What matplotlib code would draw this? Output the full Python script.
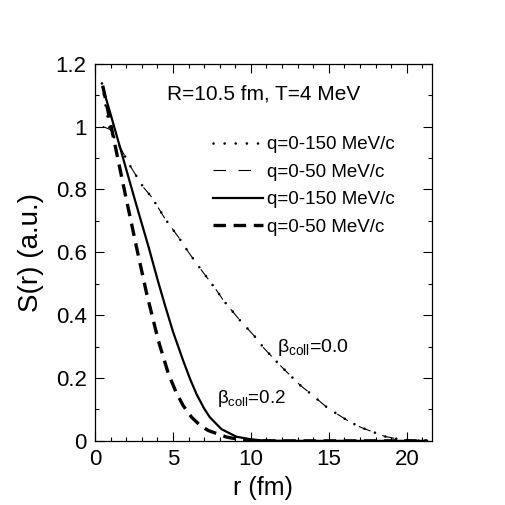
import matplotlib
matplotlib.use("Agg")
import matplotlib.pyplot as plt
from matplotlib.ticker import MultipleLocator

plt.rcParams['font.family'] = ['Liberation Sans', 'DejaVu Sans']
plt.rcParams['mathtext.fontset'] = 'custom'
plt.rcParams['mathtext.rm'] = 'Liberation Sans'
plt.rcParams['mathtext.it'] = 'Liberation Sans'
plt.rcParams['lines.scale_dashes'] = False

# beta_coll = 0.0, q = 0-150 MeV/c (dotted)
r_b0_q150 = [0.45, 0.7, 0.96, 1.5, 2.24, 3.1, 3.63, 4.49, 5.4, 6.0, 6.83, 7.8, 8.22,
             9.29, 10.36, 10.83, 11.96, 13.14, 13.66, 14.94, 16.35, 17.1, 18.6, 19.4, 20.5, 21.3]
s_b0_q150 = [1.137, 1.061, 0.987, 0.945, 0.876, 0.807, 0.776, 0.707, 0.645, 0.60, 0.543, 0.479, 0.448,
             0.384, 0.326, 0.295, 0.236, 0.178, 0.157, 0.104, 0.060, 0.042, 0.014, 0.006, 0.001, 0.0]

# beta_coll = 0.0, q = 0-50 MeV/c (thin dashed)
r_b0_q50 = [0.5, 1.0, 1.5, 2.24, 3.1, 3.63, 4.49, 5.4, 6.0, 6.83, 7.8, 8.22,
            9.29, 10.36, 10.83, 11.96, 13.14, 13.66, 14.94, 16.35, 17.1, 18.6, 19.4, 20.5, 21.3]
s_b0_q50 = [1.0, 0.99, 0.945, 0.876, 0.807, 0.776, 0.707, 0.645, 0.60, 0.543, 0.479, 0.448,
            0.384, 0.326, 0.295, 0.236, 0.178, 0.157, 0.104, 0.060, 0.042, 0.014, 0.006, 0.001, 0.0]

# beta_coll = 0.2, q = 0-150 MeV/c (solid)
r_b2_q150 = [0.5, 1.0, 1.8, 2.6, 3.45, 4.06, 4.5, 5.02, 5.66, 6.1, 6.52, 7.0, 7.37, 8.12,
             9.08, 10.0, 10.6, 11.5, 12.5, 15.0, 18.0, 21.3]
s_b2_q150 = [1.125, 1.04, 0.90, 0.76, 0.615, 0.505, 0.43, 0.345, 0.255, 0.197, 0.148, 0.103, 0.075, 0.037,
             0.013, 0.005, 0.002, 0.0005, 0.0, 0.0, 0.0, 0.0]

# beta_coll = 0.2, q = 0-50 MeV/c (thick dashed)
r_b2_q50 = [0.5, 1.0, 1.5, 1.92, 2.35, 2.67, 3.31, 4.06, 4.7, 5.2, 5.66, 6.2, 6.73, 7.26,
            8.44, 9.3, 10.5, 12.0, 15.0, 18.0, 21.3]
s_b2_q50 = [1.13, 1.01, 0.89, 0.79, 0.69, 0.615, 0.47, 0.32, 0.215, 0.155, 0.112, 0.075, 0.05, 0.033,
            0.012, 0.004, 0.0, 0.0, 0.0, 0.0, 0.0]

legend_labels = ["q=0-150 MeV/c", "q=0-50 MeV/c", "q=0-150 MeV/c", "q=0-50 MeV/c"]

fig = plt.figure(figsize=(5.05, 5.05), dpi=100)
ax = fig.add_axes([0.188, 0.127, 0.667, 0.747])

l1, = ax.plot(r_b0_q150, s_b0_q150, color='black', lw=1.9, dash_capstyle='round',
              linestyle=(0, (0.01, 8.0)))
l2, = ax.plot(r_b0_q50, s_b0_q50, color='black', lw=0.8, linestyle=(0, (9.0, 9.0)))
l3, = ax.plot(r_b2_q150, s_b2_q150, color='black', lw=1.6)
l4, = ax.plot(r_b2_q50, s_b2_q50, color='black', lw=2.4, linestyle=(0, (9.0, 5.5)))

ax.set_xlim(0, 21.6)
ax.set_ylim(0, 1.2)
ax.xaxis.set_major_locator(MultipleLocator(5))
ax.xaxis.set_minor_locator(MultipleLocator(1))
ax.yaxis.set_major_locator(MultipleLocator(0.2))
ax.yaxis.set_minor_locator(MultipleLocator(0.1))
ax.set_yticks([0, 0.2, 0.4, 0.6, 0.8, 1.0, 1.2])
ax.set_yticklabels(['0', '0.2', '0.4', '0.6', '0.8', '1', '1.2'])
ax.tick_params(which='both', direction='in', top=True, right=True, width=0.8)
ax.tick_params(which='major', length=6.5, labelsize=16, pad=6)
ax.tick_params(which='minor', length=3)
for s in ax.spines.values():
    s.set_linewidth(0.9)

ax.set_xlabel('r (fm)', fontsize=18, labelpad=4)
ax.set_ylabel('S(r) (a.u.)', fontsize=20, labelpad=8)

ax.text(0.5, 0.92, 'R=10.5 fm, T=4 MeV', transform=ax.transAxes, fontsize=15,
        ha='center', va='center')

ax.legend([l1, l2, l3, l4], legend_labels, loc='upper left', bbox_to_anchor=(0.35, 0.808),
          frameon=False, fontsize=13.5, handlelength=2.7, handletextpad=0.2,
          labelspacing=0.56, borderpad=0, borderaxespad=0)

ax.text(11.7, 0.298, r'$\beta_{\rm coll}$=0.0', fontsize=14, ha='left', va='center')
ax.text(7.8, 0.136, r'$\beta_{\rm coll}$=0.2', fontsize=13.5, ha='left', va='center')

fig.savefig('out.png', dpi=100)
